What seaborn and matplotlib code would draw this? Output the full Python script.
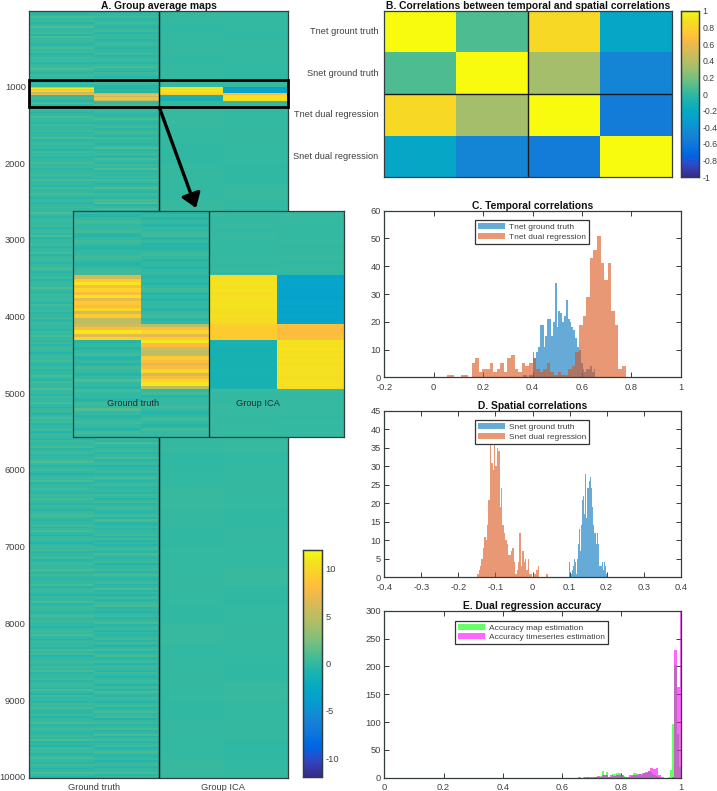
import numpy as np
import pandas as pd
import matplotlib
matplotlib.use("Agg")
import matplotlib.pyplot as plt
from matplotlib.colors import LinearSegmentedColormap
from matplotlib.patches import FancyArrowPatch, Rectangle
import seaborn as sns

# ---------- data ----------
COLUMNS = ["Ground truth", "Group ICA"]
NET_LABELS = ["Tnet grount truth", "Snet ground truth", "Tnet dual regression", "Snet dual regression"]
CORR = [[1.00, 0.08, 0.84, -0.25],
        [0.08, 1.00, 0.33, -0.50],
        [0.84, 0.33, 1.00, -0.56],
        [-0.25, -0.50, -0.56, 1.00]]

# the ground-truth background stripes below are written as whole steps of this many map units
STRIPE_STEP = 0.33

# rows of 25 map units, maps 0-900
GT1_TOP = [0,-1,0,2,0, 1,-1,0,3,0, 0,1,-1,2,0, 1,0,-1,0,2, 0,1,-1,0,1, 0,2,-1,0,1, 3,0,-1,1,0, 1]
GT2_TOP = [-1,0,0,1,-1, 0,1,0,-1,0, 1,-1,0,0,1, -1,0,1,0,-1, 0,0,1,-1,0, 1,0,-1,0,2, 0,-1,1,0,-1, 0]

# band 900-1250 in rows of 5 map units (also shown enlarged in the inset)
GT1_BAND = [0,-0.5,0,0.5,0, 0,0.5,-0.5,0,0.5, 0,-0.5,0,0,0.5, 0,-0.5,0,0.5,0.5,
            6,9,11,8,10, 8,11,7,9,8, 10,6,9,5,5, 6,8,11,7,10,
            -0.5,0,-0.5,0,0.5, -0.5,0,-0.5,0.5,0, -0.5,0,1,0,-0.5, 0.5,0,0,-0.5,0.5, 0,1,0,-0.5,0, 0.5,0,-0.5,0.5,0]
GT2_BAND = [-0.5,0,-0.5,0,-0.5, 0,0,0.5,-0.5,0, -0.5,-0.5,0,0.5,0, -0.5,0,-0.5,0,0, -0.5,0,-0.5,0,0.5, -0.5,0,-0.5,0,0, -0.5,0,0.5,-0.5,0,
            5,8,10,7,9, 11,8,6,5,5, 9,8,7,8,10, 6,8,10,11,5,
            0,0.5,-0.5,0,0, 0.5,0,-0.5,0,0.5, 0,-0.5,0.5,0,0]
ICA1_BAND = [0.1,0.1,0,0,0.1, 0,0,0.1,0.1,0, 0,0.1,0,0,0.1, 0.1,0,0,0.1,0,
             10.4,10.6,10.8,10.5,10.7, 10.4,10.6,10.5,10.7,10.6, 10.5,10.3,10.5,10.4,10.2,
             9.3,9.1,9.2,9.1,9.2,
             -1.2,-1.1,-1.2,-1.3,-1.1, -1.2,-1.2,-1.1,-1.2,-1.1, -1.2,-1.3,-1.1,-1.2,-1.1,
             0.1,0,0.1,0,0, 0.1,0.1,0,0.1,0, 0,0.1,0,0.1,0]
ICA2_BAND = [0,0.1,0,0.1,0, 0,0.1,0,0,0.1, 0,0,0.1,0,0.1, 0,0,0.1,0.1,0,
             -3.2,-3.1,-3.2,-3.1,-3.2, -3.1,-3.2,-3.3,-3.1,-3.2, -3.1,-3.2,-3.1,-3.2,-3.1,
             8.3,8.1,8.0,8.2,8.3,
             10.7,10.5,10.8,10.4,10.6, 10.5,10.7,10.4,10.6,10.5, 10.7,10.4,10.5,10.6,10.4,
             0.1,0,0,0.1,0, 0.1,0,0.1,0,0, 0.1,0,0,0.1,0]

# rows of 25 map units, maps 1250-10000
GT1_BOTTOM = [
 0,1,0,-1,0, 2,0,0,-1,1, 0,0,1,-1,0, 0,2,-1,0,1, 0,0,-1,1,0,
 1,-1,0,0,2, 0,1,-1,0,0, 1,0,-1,2,0, 0,-1,1,0,0, 2,0,-1,0,1,
 -1,0,1,0,0, 3,0,-1,0,1, 0,0,1,-1,0, 1,0,2,-1,0, 0,1,0,-1,0,
 0,2,-1,0,1, 0,-1,0,1,2, 0,-1,0,0,1, -1,0,1,0,3, 0,-1,0,1,0,
 1,0,-1,2,0, 0,1,-1,0,0, 2,-1,0,1,0, 0,-1,1,0,2, 0,0,-1,1,-1,
 0,1,0,-2,0, 1,0,2,0,-1, 0,1,-1,0,0, 2,0,-1,1,0, 0,-1,3,0,0,
 -1,1,0,0,2, 0,-1,0,1,0, -1,0,2,0,1, -1,0,0,1,-2, 0,1,0,-1,1,
 0,0,2,-1,0, 1,-1,0,0,1, 3,0,-1,0,1, 0,-2,0,1,0, 2,-1,0,0,1,
 0,-1,1,0,2, 0,0,-1,1,0, -1,0,1,2,0, -1,0,0,1,-1, 0,2,0,-1,0,
 1,0,-2,0,1, 0,2,-1,0,0, 1,-1,0,1,0, 0,2,0,-1,1, 0,-1,0,0,2,
 -1,0,1,0,-2, 1,0,0,2,-1, 0,1,0,-1,0, 2,0,-1,1,0, 0,-2,0,1,0,
 2,0,-1,0,1, 0,0,-1,2,0, 1,-2,0,0,1, 0,-1,1,0,2, -1,0,0,1,-1,
 0,1,0,-1,2, 0,-2,1,0,0, -1,1,0,2,0, -1,0,1,-1,0, 0,2,-1,0,1,
 0,-1,0,1,0, 2,-1,0,-2,1, 0,1,-1,0,2, 0,0,-1,1,0, -1,0,2,0,-1,
]
GT2_BOTTOM = [
 -1,0,1,0,-1, 0,2,0,-1,0, 1,-1,0,2,0, -1,1,0,0,-1, 0,3,-1,0,1,
 0,-1,2,0,-1, 1,0,3,-1,0, 0,1,-1,2,0, -1,0,3,0,-1, 1,0,-1,2,0,
 3,-1,0,2,-1, 0,3,0,-1,1, 2,-1,0,3,-1, 0,2,0,-1,1, 0,3,-1,0,2,
 -1,0,1,-1,2, 0,-1,3,0,-1, 1,0,-1,0,2, -1,0,1,0,-1, 2,0,-1,0,1,
 0,-1,0,2,-1, 0,1,-1,0,0, 2,-1,0,1,-1, 0,0,2,-1,0, 1,-1,0,0,1,
 -1,0,2,0,-1, 1,0,-1,0,1, -1,2,0,-1,0, 0,1,-1,0,2, -1,0,0,1,-1,
 0,1,-1,0,2, 0,-1,0,1,-1, 0,0,2,-1,1, 0,-1,0,1,0, -2,0,1,0,-1,
 2,0,-1,0,1, -1,0,0,2,-1, 0,1,-2,0,0, 1,-1,0,2,0, -1,0,1,-1,0,
 0,-1,1,0,-2, 0,2,-1,0,1, 0,-1,0,1,-1, 2,0,-2,0,1, -1,0,0,1,-1,
 1,-1,0,-2,0, 1,0,-1,2,0, -1,0,1,-2,0, 0,1,-1,0,2, 0,-1,0,1,-1,
 0,2,-1,0,-2, 0,1,-1,0,1, 2,-1,0,-2,0, 1,-1,0,0,2, -1,0,1,-2,0,
 -1,0,1,-1,2, 0,-2,0,1,-1, 0,2,-1,0,1, -2,0,1,0,-1, 1,0,-2,0,1,
 0,-2,1,0,-1, 2,0,-1,1,0, -2,0,1,-1,0, 2,-1,0,1,-2, 0,1,-1,0,2,
 -1,0,2,-2,0, 1,-1,0,1,-2, 0,2,0,-1,0, 1,-2,0,1,-1, 0,0,2,-1,0,
]
# group ICA background, rows of 100 map units (top) and 250 map units (bottom)
ICA1_TOP = [0.05,0,-0.05,0.05,0,0.05,-0.05,0,0.05]
ICA2_TOP = [0,0.05,0,-0.05,0.05,0,0.05,0,-0.05]
ICA1_BOTTOM = [0.1,0,-0.05,0.05,0,0.1,-0.05,0,0.05,0.1,-0.05,0,0.05,0,-0.05,0.1,0,0.05,-0.05,0,0.1,0.05,-0.05,0,0.05,0,-0.05,0.1,0,0.05,0,-0.05,0.05,0,0.1]
ICA2_BOTTOM = [0,0.05,0,-0.05,0.1,0,0.05,-0.05,0,0.05,0,0.1,-0.05,0,0.05,-0.05,0,0.1,0,0.05,0,-0.05,0.05,0,0.1,-0.05,0,0.05,0,-0.05,0.1,0,0.05,-0.05,0]

# histograms: (first edge, bin width, counts)
TGT_START, TGT_WIDTH = 0.3625, 0.0075
TGT_COUNTS = [1,1,0,1,1, 9,7,9,11,19, 19,11,15,21,21, 15,20,34,18,24, 23,20,22,28,21, 20,18,17,14,11, 10,5,3,2,3, 3,4,2,3]
TDR_START, TDR_WIDTH = 0.052, 0.0145
TDR_COUNTS = [1,1,0,0,1, 1,0,5,7,2, 3,3,5,2,3, 5,2,7,8,3, 2,5,4,5,7, 3,2,3,5,2, 1,2,1,1,3, 4,9,19,22,29, 43,46,51,41,35, 41,24,19,3,4]
SGT_START, SGT_WIDTH = 0.0995, 0.0025
SGT_COUNTS = [4,1,1,2,3, 5,4,1,5,9, 13,12,7,14,21, 22,17,28,16,24, 24,26,27,24,19, 17,14,12,12,9, 12,9,3,3,3, 4,2,4,1,3, 1,1]
SDR_START, SDR_WIDTH = -0.1495, 0.0038
SDR_COUNTS = [1,2,3,5,8, 11,10,14,21,37, 31,29,36,30,35, 34,19,24,14,12, 10,9,6,6,7, 8,4,1,2,4, 12,3,7,4,5, 2,5,1,1,0, 1,1,2,3,0, 0,0,0,0,1]
MAP_START, MAP_WIDTH = 0.643, 0.007
MAP_COUNTS = [0,0,0,0,1, 0,1,0,0,1, 1,2,3,12,5, 11,2,1,6,7, 9,8,5,3,1, 2,2,3,9,8, 4,6,5,8,9, 12,10,7,5,3, 1,0,0,0,0, 1,14,97,203,78, 20]
TS_START, TS_WIDTH = 0.655, 0.009
TS_COUNTS = [1,0,2,1,1, 1,1,3,2,4, 4,1,5,3,5, 4,5,2,2,5, 4,5,7,7,9, 11,12,17,15,17, 5,1,0,0,0, 2,230,163,300]

CB_A_TICKS = [-10, -5, 0, 5, 10]
CB_B_TICKS = [-1, -0.8, -0.6, -0.4, -0.2, 0, 0.2, 0.4, 0.6, 0.8, 1]
CB_B_LABELS = ["-1", "-0.8", "-0.6", "-0.4", "-0.2", "0", "0.2", "0.4", "0.6", "0.8", "1"]
MAP_YTICKS = [1000, 2000, 3000, 4000, 5000, 6000, 7000, 8000, 9000, 10000]

# ---------- style ----------
PARULA = LinearSegmentedColormap.from_list("parula", [
 (0.2081,0.1663,0.5292),(0.2116,0.1898,0.5777),(0.2123,0.2138,0.6270),(0.2081,0.2386,0.6771),
 (0.1959,0.2645,0.7279),(0.1707,0.2919,0.7792),(0.1253,0.3242,0.8303),(0.0591,0.3598,0.8683),
 (0.0117,0.3875,0.8820),(0.0060,0.4086,0.8828),(0.0165,0.4266,0.8786),(0.0329,0.4430,0.8720),
 (0.0498,0.4586,0.8641),(0.0629,0.4737,0.8554),(0.0723,0.4887,0.8467),(0.0779,0.5040,0.8384),
 (0.0793,0.5200,0.8312),(0.0749,0.5375,0.8263),(0.0641,0.5570,0.8240),(0.0488,0.5772,0.8228),
 (0.0343,0.5966,0.8199),(0.0265,0.6137,0.8135),(0.0239,0.6287,0.8038),(0.0231,0.6418,0.7913),
 (0.0228,0.6535,0.7768),(0.0267,0.6642,0.7607),(0.0384,0.6743,0.7436),(0.0590,0.6838,0.7254),
 (0.0843,0.6928,0.7062),(0.1133,0.7015,0.6859),(0.1453,0.7098,0.6646),(0.1801,0.7177,0.6424),
 (0.2178,0.7250,0.6193),(0.2586,0.7317,0.5954),(0.3022,0.7376,0.5712),(0.3482,0.7424,0.5473),
 (0.3953,0.7459,0.5244),(0.4420,0.7481,0.5033),(0.4871,0.7491,0.4840),(0.5300,0.7491,0.4661),
 (0.5709,0.7485,0.4494),(0.6099,0.7473,0.4337),(0.6473,0.7456,0.4188),(0.6834,0.7435,0.4044),
 (0.7184,0.7411,0.3905),(0.7525,0.7384,0.3768),(0.7858,0.7356,0.3633),(0.8185,0.7327,0.3498),
 (0.8507,0.7299,0.3360),(0.8824,0.7274,0.3217),(0.9139,0.7258,0.3063),(0.9450,0.7261,0.2886),
 (0.9739,0.7314,0.2666),(0.9938,0.7455,0.2403),(0.9990,0.7653,0.2164),(0.9955,0.7861,0.1967),
 (0.9880,0.8066,0.1794),(0.9789,0.8271,0.1633),(0.9697,0.8481,0.1475),(0.9626,0.8705,0.1309),
 (0.9589,0.8949,0.1132),(0.9598,0.9218,0.0948),(0.9661,0.9514,0.0755),(0.9763,0.9831,0.0538)], N=512)

sns.set_theme(style="white")
plt.rcParams["font.family"] = ["Liberation Sans", "DejaVu Sans"]
FS = 6.7
LEG_FS = 6.05
TS = 7.4
TXT = "#404040"
EDGE = "#333d3d"
W, H = 717, 791
fig = plt.figure(figsize=(W / 100, H / 100), dpi=100)

def box(x0, y0, x1, y1, **kw):
    return fig.add_axes([x0 / W, 1 - y1 / H, (x1 - x0) / W, (y1 - y0) / H], **kw)

def frame(ax, length=3.5):
    for s in ax.spines.values():
        s.set_visible(True)
        s.set_color(EDGE)
        s.set_linewidth(0.9)
    ax.tick_params(direction="in", top=True, right=True, bottom=True, left=True, length=length,
                   width=0.7, color=EDGE, labelsize=FS, labelcolor=TXT, pad=2.5)
    ax.tick_params(axis="x", pad=4)

def title(ax, text):
    ax.set_title(text, fontsize=TS, fontweight="bold", color="#111111", pad=1.5)

def style_cbar(cax, ticks, labels, size=FS):
    cax.set_yticks(ticks)
    cax.set_yticklabels(labels)
    cax.tick_params(axis="y", direction="in", right=True, left=False, length=2.5, width=0.7,
                    color=EDGE, labelsize=size, labelcolor=TXT, pad=2.5)
    for s in cax.spines.values():
        s.set_visible(True)
        s.set_color(EDGE)
        s.set_linewidth(0.9)

# ---------- A: group average maps ----------
col1 = np.r_[np.repeat(np.array(GT1_TOP) * STRIPE_STEP, 5), GT1_BAND, np.repeat(np.array(GT1_BOTTOM) * STRIPE_STEP, 5)]
col2 = np.r_[np.repeat(np.array(GT2_TOP) * STRIPE_STEP, 5), GT2_BAND, np.repeat(np.array(GT2_BOTTOM) * STRIPE_STEP, 5)]
col3 = np.r_[np.repeat(ICA1_TOP, 20), ICA1_BAND, np.repeat(ICA1_BOTTOM, 50)]
col4 = np.r_[np.repeat(ICA2_TOP, 20), ICA2_BAND, np.repeat(ICA2_BOTTOM, 50)]
grid = np.column_stack([col1, col2, col3, col4]).astype(float)

ax_a = box(29.3, 10.7, 288, 777.7)
cax_a = box(303.3, 550, 322, 777)
sns.heatmap(pd.DataFrame(grid), ax=ax_a, cmap=PARULA, vmin=-12, vmax=12, cbar_ax=cax_a)
style_cbar(cax_a, CB_A_TICKS, [str(t) for t in CB_A_TICKS])
frame(ax_a, 7)
ax_a.set_xticks([1, 3])
ax_a.set_xticklabels(COLUMNS, rotation=0)
ax_a.set_yticks([t / 5 for t in MAP_YTICKS])
ax_a.set_yticklabels([str(t) for t in MAP_YTICKS], rotation=0)
ax_a.axvline(2, color="black", lw=1.0)
ax_a.add_patch(Rectangle((0, 180), 4, 70, fill=False, ec="black", lw=2.0, clip_on=False, zorder=5))
title(ax_a, "A. Group average maps")

# inset
inset = np.column_stack([GT1_BAND, GT2_BAND, ICA1_BAND, ICA2_BAND]).astype(float)
ax_i = box(73.3, 210.7, 344.3, 437.3, zorder=3)
sns.heatmap(pd.DataFrame(inset), ax=ax_i, cmap=PARULA, vmin=-12, vmax=12, cbar=False)
frame(ax_i, 2.5)
ax_i.set_xticks([1, 3])
ax_i.set_xticklabels([])
ax_i.set_yticks([20])
ax_i.set_yticklabels([])
ax_i.axvline(2, color="#102020", lw=0.9)
ax_i.text(0.88, 59.6, COLUMNS[0], ha="center", va="center", fontsize=FS, color="#1c3030")
ax_i.text(2.73, 59.6, COLUMNS[1], ha="center", va="center", fontsize=FS, color="#1c3030")

arrow = FancyArrowPatch((159.3 / W, 1 - 107.3 / H), (196 / W, 1 - 208 / H), transform=fig.transFigure,
                        arrowstyle="-|>,head_width=0.42,head_length=0.6", mutation_scale=14, lw=2.4, color="black",
                        shrinkA=0, shrinkB=0, zorder=4)
fig.add_artist(arrow)

# ---------- B: correlations ----------
ax_b = box(384.3, 10.7, 671.7, 177.3)
cax_b = box(680.7, 10.7, 699, 177.3)
sns.heatmap(pd.DataFrame(CORR), ax=ax_b, cmap=PARULA, vmin=-1, vmax=1, cbar_ax=cax_b)
style_cbar(cax_b, CB_B_TICKS, CB_B_LABELS, size=6.3)
frame(ax_b)
ax_b.set_xticks([0.5, 1.5, 2.5, 3.5])
ax_b.set_xticklabels([])
ax_b.set_yticks([0.5, 1.5, 2.5, 3.5])
ax_b.set_yticklabels(NET_LABELS, rotation=0)
ax_b.tick_params(axis="y", pad=4)
ax_b.axvline(2, color="#1a1a1a", lw=1.0)
ax_b.axhline(2, color="#1a1a1a", lw=1.0)
title(ax_b, "B. Correlations between temporal and spatial correlations")

# ---------- histograms ----------
BLUE = (0, 0.447, 0.741)
ORANGE = (0.85, 0.325, 0.098)
GREEN = (0, 1, 0)
MAGENTA = (1, 0, 1)

def hist(ax, start, width, counts, color, label):
    counts = np.asarray(counts, float)
    edges = start + width * np.arange(len(counts) + 1)
    centres = (edges[:-1] + edges[1:]) / 2
    sns.histplot(x=centres, weights=counts, bins=edges.tolist(), color=color, alpha=0.6, linewidth=0,
                 edgecolor="none", ax=ax, label=label)

def finish(ax, xticks, yticks, xlabels, legend_box, text):
    ax.set_xlim(xticks[0], xticks[-1])
    ax.set_ylim(yticks[0], yticks[-1])
    ax.set_xticks(xticks)
    ax.set_xticklabels(xlabels)
    ax.set_yticks(yticks)
    ax.set_yticklabels([str(t) for t in yticks])
    ax.set_xlabel("")
    ax.set_ylabel("")
    frame(ax)
    pos = ax.get_position()
    ax_x0, ax_top = pos.x0 * W, (1 - pos.y1) * H
    bx = (legend_box[0] - ax_x0) / (pos.width * W)
    by = 1 - (legend_box[1] - ax_top) / (pos.height * H)
    leg = ax.legend(loc="upper left", bbox_to_anchor=(bx, by), borderaxespad=0, fontsize=LEG_FS,
                    frameon=True, fancybox=False, framealpha=1, edgecolor="#333333",
                    borderpad=0.35, labelspacing=0.2, handlelength=3.2, handleheight=0.75, handletextpad=0.55)
    leg.get_frame().set_linewidth(0.9)
    for t in leg.get_texts():
        t.set_color(TXT)
    title(ax, text)

ax_c = box(384.3, 210.7, 680.7, 377.3)
hist(ax_c, TGT_START, TGT_WIDTH, TGT_COUNTS, BLUE, "Tnet ground truth")
hist(ax_c, TDR_START, TDR_WIDTH, TDR_COUNTS, ORANGE, "Tnet dual regression")
finish(ax_c, [-0.2, 0, 0.2, 0.4, 0.6, 0.8, 1], [0, 10, 20, 30, 40, 50, 60],
       ["-0.2", "0", "0.2", "0.4", "0.6", "0.8", "1"], (474.7, 220), "C. Temporal correlations")

ax_d = box(384.3, 410.7, 680.7, 577.3)
hist(ax_d, SGT_START, SGT_WIDTH, SGT_COUNTS, BLUE, "Snet ground truth")
hist(ax_d, SDR_START, SDR_WIDTH, SDR_COUNTS, ORANGE, "Snet dual regression")
finish(ax_d, [-0.4, -0.3, -0.2, -0.1, 0, 0.1, 0.2, 0.3, 0.4], [0, 5, 10, 15, 20, 25, 30, 35, 40, 45],
       ["-0.4", "-0.3", "-0.2", "-0.1", "0", "0.1", "0.2", "0.3", "0.4"], (474.7, 420), "D. Spatial correlations")

ax_e = box(384.3, 610.7, 680.7, 777.7)
hist(ax_e, MAP_START, MAP_WIDTH, MAP_COUNTS, GREEN, "Accuracy map estimation")
hist(ax_e, TS_START, TS_WIDTH, TS_COUNTS, MAGENTA, "Accuracy timeseries estimation")
finish(ax_e, [0, 0.2, 0.4, 0.6, 0.8, 1], [0, 50, 100, 150, 200, 250, 300],
       ["0", "0.2", "0.4", "0.6", "0.8", "1"], (455, 620.7), "E. Dual regression accuracy")

fig.savefig("out.png", dpi=100)
